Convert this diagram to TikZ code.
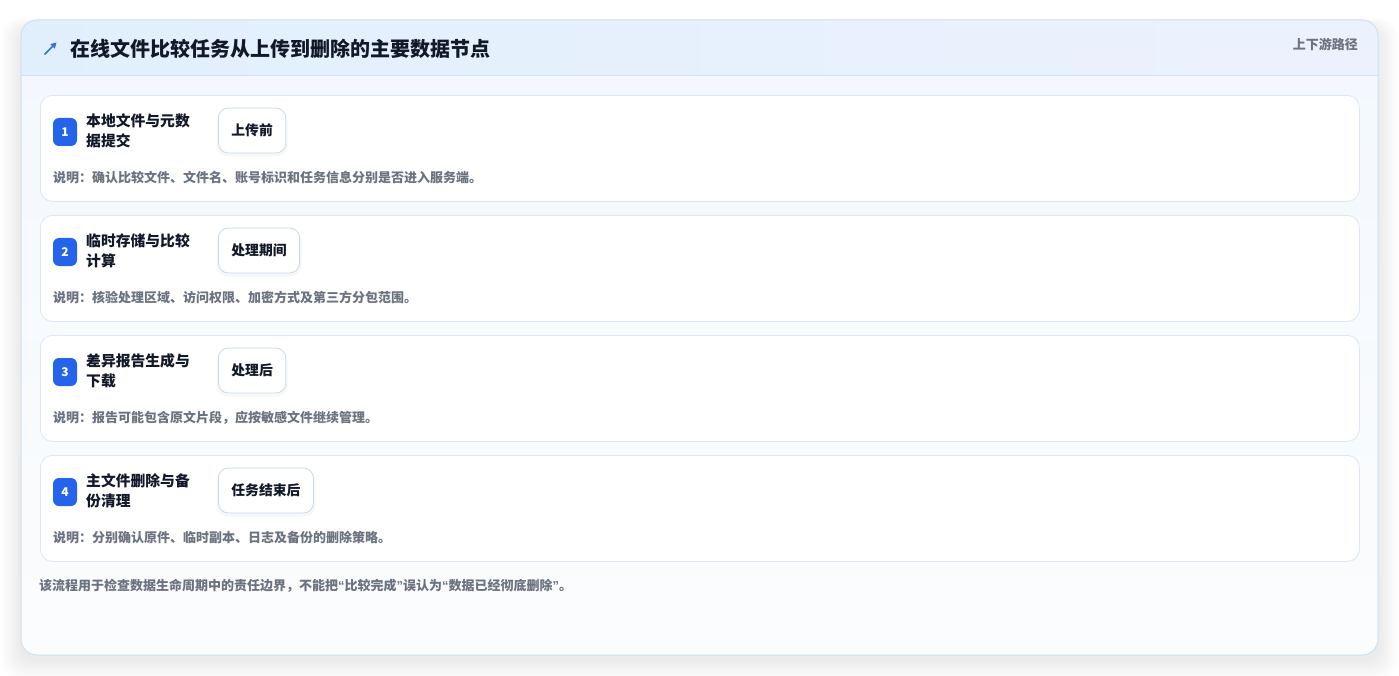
\documentclass[tikz,border=0pt]{standalone}
\usepackage{fontspec}
\setmainfont{Noto Sans CJK SC}
\newfontfamily\latinfont{Liberation Sans}
\usetikzlibrary{arrows.meta}
\definecolor{cardborder}{HTML}{CDE2F3}
\definecolor{headL}{HTML}{E1EFFD}
\definecolor{headR}{HTML}{ECF2FD}
\definecolor{bodytop}{HTML}{F3F8FE}
\definecolor{bodybot}{HTML}{FBFCFD}
\definecolor{stepborder}{HTML}{DCE8F5}
\definecolor{tagborder}{HTML}{C9D9F0}
\definecolor{badgeblue}{HTML}{2563EB}
\definecolor{titlecol}{HTML}{111827}
\definecolor{graytext}{HTML}{6B7280}
\definecolor{iconblue}{HTML}{3B6FD6}
\tikzset{
  stepcard/.style={draw=stepborder, line width=0.8pt, fill=white, rounded corners=12pt, minimum width=1319pt, minimum height=106pt, anchor=north west, inner sep=0pt},
  badge/.style={fill=badgeblue, rounded corners=6pt, minimum width=24pt, minimum height=28pt, inner sep=0pt, text=white, font=\bfseries\fontsize{12}{12}\selectfont},
  steptitle/.style={anchor=west, align=left, inner sep=0pt, text=titlecol, font=\bfseries\fontsize{14.8}{20}\selectfont},
  tagbox/.style={draw=tagborder, line width=0.8pt, fill=white, rounded corners=10pt, minimum height=45pt, inner xsep=13pt, anchor=west, text=titlecol, font=\bfseries\fontsize{13.8}{14}\selectfont},
  desc/.style={anchor=west, inner sep=0pt, text=graytext, font=\bfseries\fontsize{13}{13}\selectfont},
}
\newcommand{\myLq}{{\latinfont\bfseries “}}
\newcommand{\myRq}{{\latinfont\bfseries ”}}
\begin{document}
\begin{tikzpicture}[x=1pt,y=-1pt]
\useasboundingbox (0,0) rectangle (1399,676);
\fill[white] (0,0) rectangle (1399,676);
% shadow of outer card
\foreach \i in {1,...,20}{
  \fill[black, opacity=0.0055, rounded corners=18pt] (21-\i,20-\i*0.5+8) rectangle (1378+\i,655+\i*0.9+6);
}
% outer card
\shade[top color=bodytop, bottom color=bodybot, rounded corners=16pt] (21,20) rectangle (1378,655);
\begin{scope}
  \clip[rounded corners=16pt] (21,20) rectangle (1378,655);
  \shade[left color=headL, right color=headR] (21,20) rectangle (1378,75);
  \draw[cardborder, line width=0.8pt] (21,75) -- (1378,75);
\end{scope}
\draw[cardborder, line width=1pt, rounded corners=16pt] (21,20) rectangle (1378,655);
% header
\coordinate (iconA) at (44.5,54.5);
\coordinate (iconB) at (56.5,42.5);
\draw[iconblue, line width=1.7pt, -{Triangle[length=5.5pt,width=6pt]}] (iconA) -- (iconB);
\node[anchor=west, inner sep=0pt, text=titlecol, font=\bfseries\fontsize{20}{20}\selectfont] (title) at (70,48.5) {在线文件比较任务从上传到删除的主要数据节点};
\node[anchor=east, inner sep=0pt, text=graytext, font=\bfseries\fontsize{13}{13}\selectfont] (route) at (1358,44) {上下游路径};
% steps
\foreach \i/\ta/\tb/\tag/\w/\d in {
  1/本地文件与元数/据提交/上传前/68/说明：确认比较文件、文件名、账号标识和任务信息分别是否进入服务端。,
  2/临时存储与比较/计算/处理期间/82/说明：核验处理区域、访问权限、加密方式及第三方分包范围。,
  3/差异报告生成与/下载/处理后/68/说明：报告可能包含原文片段，应按敏感文件继续管理。,
  4/主文件删除与备/份清理/任务结束后/96/说明：分别确认原件、临时副本、日志及备份的删除策略。}{
  \pgfmathsetmacro{\oy}{95+(\i-1)*120}
  \node[stepcard] (card\i) at (40,\oy) {};
  \fill[black, opacity=0.03, rounded corners=11pt] (216.5,\oy+14.5) rectangle (219.5+\w,\oy+61.5);
  \node[badge] (badge\i) at (65,\oy+37) {\i};
  \node[steptitle] (stitle\i) at (86,\oy+36) {\ta\\\tb};
  \node[tagbox] (tag\i) at (218,\oy+35.5) {\tag};
  \node[desc] (desc\i) at (53,\oy+83) {\d};
}
\node[desc] (footer) at (39,586) {该流程用于检查数据生命周期中的责任边界，不能把\myLq 比较完成\myRq 误认为\myLq 数据已经彻底删除\myRq 。};
\end{tikzpicture}
\end{document}
